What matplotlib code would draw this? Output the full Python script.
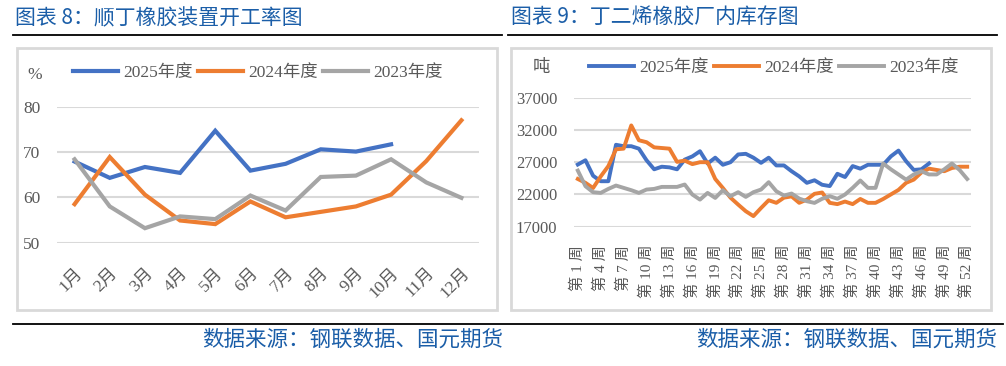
import numpy as np
import matplotlib
matplotlib.use('Agg')
import matplotlib.pyplot as plt
from matplotlib.patches import Rectangle
from matplotlib.lines import Line2D

plt.rcParams['font.family'] = ['Liberation Serif', 'Noto Sans CJK SC', 'DejaVu Sans']

### Data ###
months = ['1月', '2月', '3月', '4月', '5月', '6月', '7月', '8月', '9月', '10月', '11月', '12月']
rate_2025 = [67.9, 64.3, 66.7, 65.4, 74.7, 65.9, 67.4, 70.6, 70.1, 71.7]
rate_2024 = [58.5, 68.9, 60.6, 54.9, 54.1, 59.1, 55.6, 56.8, 58.0, 60.6, 68.0, 77.0]
rate_2023 = [68.4, 58.0, 53.2, 55.8, 55.2, 60.4, 57.1, 64.5, 64.8, 68.4, 63.3, 59.9]

weeks = ['第 %d 周' % w for w in range(1, 53)]
stock_2025 = [26640, 27300, 24900, 24050, 24050, 29700, 29480, 29480, 29100, 27300,
              25900, 26300, 26200, 25900, 27400, 27900, 28700, 26800, 27700, 26600,
              27000, 28200, 28300, 27700, 26900, 27700, 26500, 26500, 25600, 24800,
              23800, 24200, 23500, 23300, 25200, 24700, 26400, 26000, 26600, 26600,
              26600, 27900, 28800, 27150, 25800, 25900, 26800]
stock_2024 = [24400, 23800, 23000, 24800, 26400, 29000, 29100, 32700, 30400, 30100,
              29300, 29200, 29100, 27050, 27250, 26700, 27000, 27000, 24400, 23000,
              21500, 20430, 19400, 18640, 19900, 21100, 20700, 21500, 21700, 20700,
              21200, 22100, 22300, 20700, 20500, 20900, 20500, 21300, 20700, 20700,
              21300, 22000, 22700, 23800, 24300, 25400, 26000, 25800, 25600, 26100,
              26300, 26300]
stock_2023 = [25700, 23280, 22350, 22240, 22860, 23380, 23020, 22660, 22240, 22760,
              22860, 23170, 23170, 23170, 23540, 21990, 21200, 22240, 21460, 22660,
              21730, 22350, 21620, 22350, 22760, 23900, 22500, 21830, 22140, 21360,
              20950, 20690, 21330, 21730, 21330, 21990, 23020, 24160, 23020, 23020,
              26800, 25900, 25100, 24300, 25100, 25600, 25100, 25100, 25900, 26800,
              25800, 24400]

series_labels = ['2025年度', '2024年度', '2023年度']
colors = ['#4472C4', '#ED7D31', '#A5A5A5']
txt = '#595959'
title_blue = '#1B5EA8'

W, H = 1006, 366
fig = plt.figure(figsize=(W / 100, H / 100), dpi=100)


def fx(px):
    return px / W


def fy(py):
    return 1 - py / H


### Frames, titles, rules ###
for x0, x1 in [(17, 497), (511, 991)]:
    fig.patches.append(Rectangle((fx(x0), fy(310)), fx(x1 - x0), (310 - 47.5) / H,
                                 transform=fig.transFigure, fill=False,
                                 edgecolor='#D9D9D9', linewidth=2))
fig.add_artist(Line2D([fx(13), fx(502)], [fy(35), fy(35)], color='black', lw=1.3))
fig.add_artist(Line2D([fx(508), fx(997)], [fy(35), fy(35)], color='black', lw=1.3))
fig.add_artist(Line2D([fx(13), fx(1003)], [fy(323.5), fy(323.5)], color='black', lw=1.3))

fig.text(fx(15), fy(18), '图表 8：顺丁橡胶装置开工率图', family='Noto Sans CJK SC',
         fontsize=15, color=title_blue, va='center', ha='left')
fig.text(fx(511), fy(18), '图表 9：丁二烯橡胶厂内库存图', family='Noto Sans CJK SC',
         fontsize=15, color=title_blue, va='center', ha='left')
for xr in [503, 997]:
    fig.text(fx(xr), fy(340), '数据来源：钢联数据、国元期货', family='Noto Sans CJK SC',
             fontsize=15.5, color=title_blue, va='center', ha='right')

### Left chart ###
ax1 = fig.add_axes([fx(57), fy(242.7), fx(422), (242.7 - 106.7) / H])
x1 = np.arange(1, 13)
for vals, lab, c in zip([rate_2025, rate_2024, rate_2023], series_labels, colors):
    ax1.plot(x1[:len(vals)], vals, color=c, lw=3, label=lab, solid_joinstyle='miter')
ax1.set_xlim(0.5, 12.5)
ax1.set_ylim(50, 80)
ax1.set_yticks([50, 60, 70, 80])
ax1.set_xticks(x1)
ax1.set_xticklabels(months, rotation=45, ha='right', va='top', rotation_mode='anchor')
ax1.grid(axis='y', color='#D9D9D9', lw=1.5)
ax1.set_axisbelow(True)
ax1.tick_params(length=0, labelsize=12.5, labelcolor=txt)
ax1.tick_params(axis='x', pad=16)
ax1.tick_params(axis='y', pad=12)
for s in ax1.spines.values():
    s.set_visible(False)
fig.text(fx(35), fy(75), '%', fontsize=12.5, color=txt, ha='center', va='center')
fig.legend(*ax1.get_legend_handles_labels(), loc='center', bbox_to_anchor=(fx(258), fy(73)),
           ncol=3, frameon=False, fontsize=12.5, handlelength=2.6, handletextpad=0.3,
           columnspacing=0.3, labelcolor=txt)

### Right chart ###
ax2 = fig.add_axes([fx(574), fy(226.7), fx(397), (226.7 - 97.7) / H])
x2 = np.arange(1, 53)
for vals, lab, c in zip([stock_2025, stock_2024, stock_2023], series_labels, colors):
    ax2.plot(x2[:len(vals)], vals, color=c, lw=2.8, label=lab)
ax2.set_xlim(0.5, 52.5)
ax2.set_ylim(17000, 37000)
ax2.set_yticks(range(17000, 37001, 5000))
ax2.set_xticks(x2[::3])
ax2.set_xticklabels(weeks[::3], rotation=90, ha='center', va='top')
ax2.grid(axis='y', color='#D9D9D9', lw=1.5)
ax2.set_axisbelow(True)
ax2.tick_params(length=0, labelsize=12, labelcolor=txt)
ax2.tick_params(axis='x', pad=13, labelsize=11)
ax2.tick_params(axis='y', pad=12)
for s in ax2.spines.values():
    s.set_visible(False)
fig.text(fx(541), fy(68), '吨', fontsize=12.5, color=txt, ha='center', va='center')
fig.legend(*ax2.get_legend_handles_labels(), loc='center', bbox_to_anchor=(fx(774), fy(68)),
           ncol=3, frameon=False, fontsize=12.5, handlelength=2.6, handletextpad=0.3,
           columnspacing=0.3, labelcolor=txt)

fig.savefig('out.png', dpi=100)
